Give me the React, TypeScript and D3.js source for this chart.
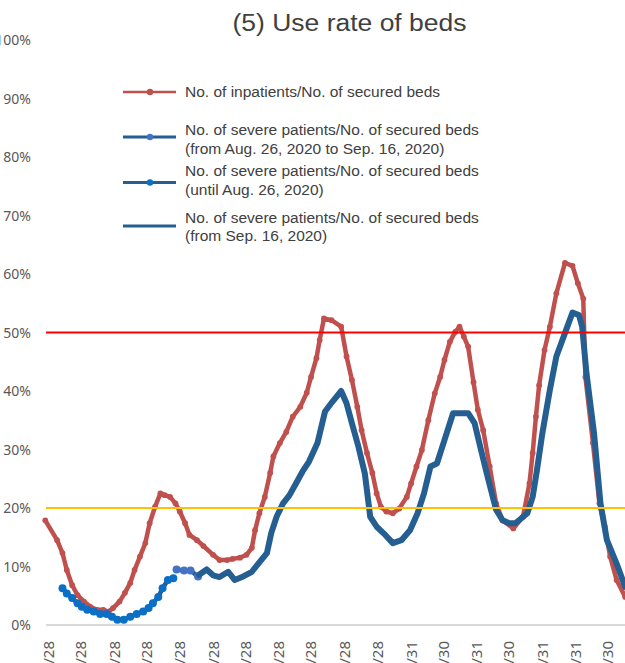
import React from "react";
import * as d3 from "d3";

// ---------- data ----------
const yTicks = [0, 10, 20, 30, 40, 50, 60, 70, 80, 90, 100];
const xTickLabels = [
  "2020/4/28", "2020/5/28", "2020/6/28", "2020/7/28", "2020/8/28", "2020/9/28",
  "2020/10/28", "2020/11/28", "2020/12/28", "2021/1/28", "2021/2/28", "2021/3/31",
  "2021/4/30", "2021/5/31", "2021/6/30", "2021/7/31", "2021/8/31", "2021/9/30",
];

// No. of inpatients / No. of secured beds (%)
const inpatientDates = [
  "2020-04-25", "2020-05-06", "2020-05-11", "2020-05-15", "2020-05-20", "2020-05-25", "2020-05-31",
  "2020-06-06", "2020-06-12", "2020-06-18", "2020-06-23", "2020-06-27", "2020-07-03", "2020-07-08",
  "2020-07-13", "2020-07-17", "2020-07-22", "2020-07-27", "2020-07-31", "2020-08-05", "2020-08-10",
  "2020-08-14", "2020-08-19", "2020-08-24", "2020-08-28", "2020-09-02", "2020-09-06", "2020-09-13",
  "2020-09-19", "2020-09-28", "2020-10-04", "2020-10-11", "2020-10-16", "2020-10-23", "2020-10-29",
  "2020-11-03", "2020-11-06", "2020-11-10", "2020-11-15", "2020-11-20", "2020-11-23", "2020-11-29",
  "2020-12-05", "2020-12-11", "2020-12-18", "2020-12-24", "2020-12-28", "2021-01-02", "2021-01-05",
  "2021-01-09", "2021-01-16", "2021-01-25", "2021-01-30", "2021-02-04", "2021-02-09", "2021-02-13",
  "2021-02-18", "2021-02-23", "2021-02-27", "2021-03-03", "2021-03-08", "2021-03-14", "2021-03-20",
  "2021-03-27", "2021-03-31", "2021-04-05", "2021-04-10", "2021-04-16", "2021-04-22", "2021-04-27",
  "2021-05-01", "2021-05-06", "2021-05-11", "2021-05-15", "2021-05-19", "2021-05-23", "2021-05-28",
  "2021-06-01", "2021-06-06", "2021-06-12", "2021-06-18", "2021-06-24", "2021-07-04", "2021-07-13",
  "2021-07-19", "2021-07-22", "2021-07-25", "2021-07-28", "2021-08-02", "2021-08-07", "2021-08-13",
  "2021-08-21", "2021-08-28", "2021-09-02", "2021-09-07", "2021-09-09", "2021-09-16", "2021-09-22",
  "2021-09-27", "2021-10-02", "2021-10-08", "2021-10-16",
];
const inpatientValues = [
  17.9, 14.5, 12.3, 9.4, 6.8, 5.1, 4.0,
  3.1, 2.6, 2.6, 2.3, 2.9, 4.0, 5.5,
  7.2, 9.4, 11.7, 14.0, 17.4, 20.2, 22.5,
  22.2, 21.9, 20.8, 19.4, 17.4, 15.4, 14.5,
  13.5, 12.0, 11.1, 11.1, 11.3, 11.5, 12.0,
  13.2, 16.2, 19.1, 21.9, 26.0, 28.8, 31.1,
  33.0, 35.6, 37.3, 39.7, 42.4, 45.6, 48.7,
  52.4, 52.1, 51.0, 45.9, 41.9, 37.3, 33.3,
  29.4, 26.0, 22.5, 20.2, 19.4, 19.1, 19.9,
  21.9, 24.2, 27.1, 29.9, 35.0, 39.6, 42.4,
  45.3, 48.4, 50.1, 51.0, 49.3, 47.6, 41.5,
  36.8, 33.3, 27.1, 20.8, 17.9, 16.5, 18.5,
  24.2, 29.4, 35.6, 41.0, 47.0, 51.0, 56.7,
  61.9, 61.4, 58.4, 55.8, 42.4, 31.1, 20.8,
  16.8, 11.7, 7.7, 4.8,
];

// No. of severe patients / No. of secured beds (until Aug. 26, 2020)
const severeEarlyDates = [
  "2020-05-11", "2020-05-15", "2020-05-20", "2020-05-25", "2020-05-29", "2020-06-03", "2020-06-09",
  "2020-06-15", "2020-06-21", "2020-06-26", "2020-07-01", "2020-07-07", "2020-07-13", "2020-07-19",
  "2020-07-25", "2020-07-30", "2020-08-03", "2020-08-08", "2020-08-12", "2020-08-17", "2020-08-22",
];
const severeEarlyValues = [
  6.3, 5.4, 4.6, 3.7, 3.1, 2.6, 2.3,
  1.9, 1.9, 1.4, 0.9, 0.9, 1.4, 1.9,
  2.3, 2.9, 3.7, 4.8, 6.3, 7.7, 8.0,
];

// No. of severe patients / No. of secured beds (from Aug. 26, 2020 to Sep. 16, 2020)
const severeMidDates = ["2020-08-25", "2020-09-01", "2020-09-07", "2020-09-14"];
const severeMidValues = [9.5, 9.3, 9.3, 8.3];

// No. of severe patients / No. of secured beds (from Sep. 16, 2020)
const severeLateDates = [
  "2020-09-15", "2020-09-22", "2020-09-28", "2020-10-04", "2020-10-12", "2020-10-18", "2020-10-26",
  "2020-11-03", "2020-11-09", "2020-11-17", "2020-11-21", "2020-11-26", "2020-12-02", "2020-12-08",
  "2020-12-14", "2020-12-20", "2020-12-26", "2021-01-03", "2021-01-10", "2021-01-17", "2021-01-25",
  "2021-01-30", "2021-02-04", "2021-02-10", "2021-02-16", "2021-02-21", "2021-02-27", "2021-03-07",
  "2021-03-14", "2021-03-22", "2021-03-30", "2021-04-06", "2021-04-12", "2021-04-18", "2021-04-24",
  "2021-05-01", "2021-05-09", "2021-05-23", "2021-05-29", "2021-06-04", "2021-06-10", "2021-06-18",
  "2021-06-24", "2021-06-30", "2021-07-06", "2021-07-17", "2021-07-22", "2021-07-26", "2021-07-31",
  "2021-08-07", "2021-08-13", "2021-08-22", "2021-08-28", "2021-09-03", "2021-09-06", "2021-09-10",
  "2021-09-17", "2021-09-23", "2021-09-29", "2021-10-08", "2021-10-16",
];
const severeLateValues = [
  8.6, 9.5, 8.5, 8.2, 9.1, 7.7, 8.3,
  9.1, 10.5, 12.3, 15.7, 18.5, 20.8, 22.2,
  24.2, 26.2, 27.9, 31.1, 36.5, 38.2, 40.0,
  37.9, 34.5, 30.5, 25.9, 18.5, 16.8, 15.4,
  14.0, 14.5, 16.2, 19.1, 22.5, 27.1, 27.6,
  31.6, 36.2, 36.2, 34.5, 29.9, 25.4, 19.7,
  17.9, 17.4, 17.4, 19.1, 21.9, 26.5, 32.8,
  40.2, 45.9, 50.4, 53.4, 53.0, 51.0, 43.0,
  32.8, 20.8, 14.5, 10.5, 6.5,
];

const referenceLines = [
  { value: 50, color: "#FF0000" },
  { value: 20, color: "#FFC000" },
];

const legendItems = [
  { lines: ["No. of inpatients/No. of secured beds"], color: "#C0504D", dot: "#C0504D", stroke: 2.5 },
  { lines: ["No. of severe patients/No. of secured beds", "(from Aug. 26, 2020 to Sep. 16, 2020)"], color: "#255E91", dot: "#4472C4", stroke: 3 },
  { lines: ["No. of severe patients/No. of secured beds", "(until Aug. 26, 2020)"], color: "#255E91", dot: "#0B6FC6", stroke: 3 },
  { lines: ["No. of severe patients/No. of secured beds", "(from Sep. 16, 2020)"], color: "#255E91", dot: null, stroke: 3 },
];

// ---------- layout ----------
const W = 625;
const H = 663;
const parse = d3.utcParse("%Y-%m-%d");
const parseTick = d3.utcParse("%Y/%m/%d");

const x = d3
  .scaleUtc()
  .domain([parse("2020-04-28") as Date, parse("2021-09-30") as Date])
  .range([48.5, 608]);
const y = d3.scaleLinear().domain([0, 100]).range([625, 40]);

const line = d3
  .line<[Date, number]>()
  .x((d) => x(d[0]))
  .y((d) => y(d[1]));

const zip = (ds: string[], vs: number[]): [Date, number][] =>
  ds.map((d, i) => [parse(d) as Date, vs[i]]);

const inpatients = zip(inpatientDates, inpatientValues);
const severeEarly = zip(severeEarlyDates, severeEarlyValues);
const severeMid = zip(severeMidDates, severeMidValues);
const severeLate = zip(severeLateDates, severeLateValues);

const FONT_AXIS = "'Noto Sans', 'Open Sans', sans-serif";
const FONT_TEXT = "'Liberation Sans', Arial, sans-serif";

export default function App() {
  const legendRowY = [92, 137, 182.5, 226];
  const legendTextY = [[91], [129, 148], [170.5, 189], [217, 235.5]];
  return (
    <div style={{ position: "absolute", left: 0, top: 0, width: W, height: H }}>
      <svg width={W} height={H} style={{ display: "block", background: "#fff", overflow: "hidden" }}>
        <rect x={0} y={0} width={W} height={H} fill="#fff" />
        {/* title */}
        <text
          x={349.5}
          y={30.5}
          textAnchor="middle"
          fontFamily={FONT_TEXT}
          fontSize={23.5}
          fill="#404040"
          textLength={234}
          lengthAdjust="spacingAndGlyphs"
        >
          (5) Use rate of beds
        </text>

        {/* y axis labels */}
        {yTicks.map((t) => (
          <text
            key={t}
            x={31}
            y={y(t)}
            dy="0.36em"
            textAnchor="end"
            fontFamily={FONT_AXIS}
            fontSize={14}
            fill="#595959"
          >
            {t}%
          </text>
        ))}

        {/* x axis labels */}
        {xTickLabels.map((t) => {
          const px = x(parseTick(t) as Date);
          return (
            <text
              key={t}
              transform={`translate(${px},641) rotate(-90)`}
              dy="0.36em"
              textAnchor="end"
              fontFamily={FONT_AXIS}
              fontSize={15}
              fill="#595959"
            >
              {t}
            </text>
          );
        })}

        {/* baseline */}
        <line x1={46} x2={W} y1={y(0)} y2={y(0)} stroke="#D9D9D9" strokeWidth={2} />

        {/* inpatients */}
        <path d={line(inpatients) || ""} fill="none" stroke="#C0504D" strokeWidth={4.5} strokeLinejoin="round" strokeLinecap="round" />
        {inpatients.map((d, i) => (
          <circle key={i} cx={x(d[0])} cy={y(d[1])} r={2.9} fill="#C0504D" />
        ))}

        {/* severe, until Aug 26 */}
        <path d={line(severeEarly) || ""} fill="none" stroke="#255E91" strokeWidth={4.5} strokeLinejoin="round" />
        {severeEarly.map((d, i) => (
          <circle key={i} cx={x(d[0])} cy={y(d[1])} r={4} fill="#0B6FC6" />
        ))}

        {/* severe, Aug 26 - Sep 16 */}
        <path d={line(severeMid) || ""} fill="none" stroke="#255E91" strokeWidth={4.5} strokeLinejoin="round" />
        {severeMid.map((d, i) => (
          <circle key={i} cx={x(d[0])} cy={y(d[1])} r={4} fill="#4472C4" />
        ))}

        {/* severe, from Sep 16 */}
        <path d={line(severeLate) || ""} fill="none" stroke="#255E91" strokeWidth={6} strokeLinejoin="round" strokeLinecap="round" />

        {/* reference lines */}
        {referenceLines.map((r) => (
          <line key={r.value} x1={46} x2={W} y1={y(r.value)} y2={y(r.value)} stroke={r.color} strokeWidth={2} />
        ))}

        {/* legend */}
        {legendItems.map((item, i) => (
          <g key={i}>
            <line x1={123} x2={176} y1={legendRowY[i]} y2={legendRowY[i]} stroke={item.color} strokeWidth={item.stroke} />
            {item.dot && <circle cx={150} cy={legendRowY[i]} r={3.2} fill={item.dot} />}
            {item.lines.map((l, j) => (
              <text
                key={j}
                x={185}
                y={legendTextY[i][j]}
                dy="0.36em"
                fontFamily={FONT_TEXT}
                fontSize={15.5}
                fill="#404040"
              >
                {l}
              </text>
            ))}
          </g>
        ))}
      </svg>
    </div>
  );
}
